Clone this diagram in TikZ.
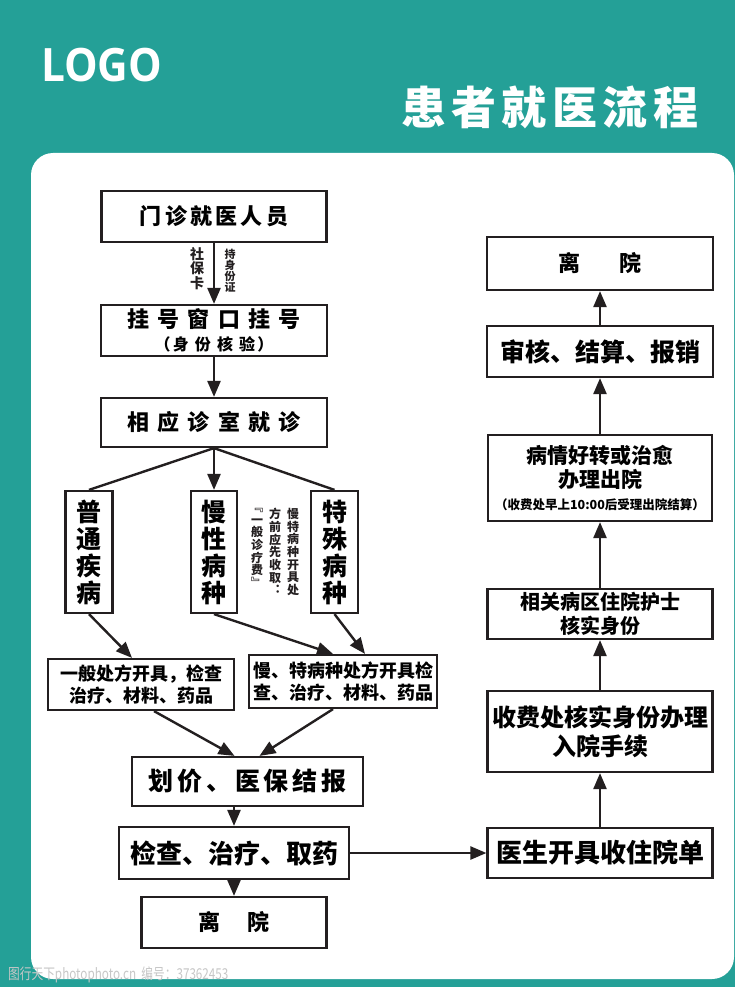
\documentclass[tikz,border=0pt]{standalone}
\usepackage{fontspec}
\usetikzlibrary{arrows.meta}
\newfontfamily\cjk{Noto Sans CJK SC}
\newfontfamily\cjkwide[LetterSpace=15]{Noto Sans CJK SC}
\newfontfamily\logofont{Open Sans}
\definecolor{tealbg}{RGB}{36,160,151}
\definecolor{boxline}{RGB}{35,31,32}
\tikzset{
  flowbox/.style={draw=boxline,line width=2.2pt,fill=white,align=center,inner sep=0pt,
    font=\cjkwide\bfseries\fontsize{22}{27}\selectfont},
  boxsize/.style 2 args={minimum width=#1,minimum height=#2},
  flowline/.style={draw=boxline,line width=2.4pt},
  flowarrow/.style={flowline,-{Triangle[width=13pt,length=16pt]}},
  sidetext/.style={align=center,inner sep=0pt,text=boxline,font=\cjk\bfseries\fontsize{12}{12.7}\selectfont}
}

\begin{document}
\begin{tikzpicture}[x=1pt,y=-1pt]
  % background and panel
  \fill[tealbg] (0,0) rectangle (735,987);
  \fill[white,rounded corners=22pt] (31,153) rectangle (734,979);
  \node[font=\logofont\bfseries\fontsize{46}{50}\selectfont,text=white,anchor=base west,inner sep=0pt] (logo) at (41,82) {\scalebox{0.92}[1]{LOGO}};
  \node[font=\cjk\bfseries\fontsize{45}{50}\selectfont\addfontfeature{LetterSpace=12},text=white,anchor=west,inner sep=0pt] (title) at (401,107) {患者就医流程};
  \node[font=\cjk\fontsize{15}{15}\selectfont,text=black!22,anchor=west,inner sep=0pt] (mark) at (8,975) {\scalebox{0.78}[1]{图行天下photophoto.cn\ \ 编号：37362453}};

  % outpatient column
  \node[flowbox,boxsize={225}{51}] (visitor) at (214,216.5) {门诊就医人员};
  \node[flowbox,boxsize={226}{51}] (register) at (214,330.5) {挂 号 窗 口 挂 号\\[-4pt]{\fontsize{16}{18}\selectfont （身 份 核 验）}};
  \node[flowbox,boxsize={226}{49}] (clinic) at (214,422.5) {相 应 诊 室 就 诊};
  \node[flowbox,boxsize={47}{122},font=\cjk\bfseries\fontsize{25}{27}\selectfont] (common) at (89,552) {普\\通\\疾\\病};
  \node[flowbox,boxsize={46}{122},font=\cjk\bfseries\fontsize{25}{27}\selectfont] (chronic) at (214,552) {慢\\性\\病\\种};
  \node[flowbox,boxsize={47}{122},font=\cjk\bfseries\fontsize{25}{27}\selectfont] (special) at (334.5,552) {特\\殊\\病\\种};
  \node[flowbox,boxsize={186}{51},font=\cjk\bfseries\fontsize{18}{22}\selectfont] (general) at (141,684.5) {一般处方开具，检查\\治疗、材料、药品};
  \node[flowbox,boxsize={188}{53},font=\cjk\bfseries\fontsize{18}{22}\selectfont] (chronicrx) at (343,681.5) {慢、特病种处方开具检\\查、治疗、材料、药品};
  \node[flowbox,boxsize={231}{49},font=\cjkwide\bfseries\fontsize{25}{27}\selectfont] (billing) at (247.5,781.5) {划价、医保结报};
  \node[flowbox,boxsize={230}{52},font=\cjk\bfseries\fontsize{26}{28}\selectfont] (exam) at (234,853) {检查、治疗、取药};
  \node[flowbox,boxsize={185}{51}] (leave) at (234,922.5) {离\hspace{1.2em}院};

  % notes
  \node[sidetext,font=\cjk\bfseries\fontsize{14}{14.5}\selectfont,anchor=north] (card) at (197,247) {社\\保\\卡};
  \node[sidetext,font=\cjk\bfseries\fontsize{11}{11}\selectfont,anchor=north] (idcard) at (230,249) {持\\身\\份\\证};
  \node[sidetext,anchor=north] (note1) at (293,508) {慢\\特\\病\\种\\开\\具\\处};
  \node[sidetext,anchor=north] (note2) at (275,508) {方\\前\\应\\先\\收\\取\\︓};
  \node[sidetext,anchor=north] (note3) at (257,508) {﹃\\一\\般\\诊\\疗\\费\\﹄};

  % inpatient column
  \node[flowbox,boxsize={226}{53}] (exit) at (600,263.5) {离\hspace{1.8em}院};
  \node[flowbox,boxsize={226}{51},font=\cjk\bfseries\fontsize{25}{27}\selectfont] (audit) at (600,351.5) {审核、结算、报销};
  \node[flowbox,boxsize={224}{86},font=\cjk\bfseries\fontsize{21}{24}\selectfont] (discharge) at (600,478) {病情好转或治愈\\办理出院\\[-2pt]{\fontsize{12.5}{14}\selectfont （收费处早上10:00后受理出院结算）}};
  \node[flowbox,boxsize={225}{50},font=\cjk\bfseries\fontsize{20}{24}\selectfont] (nurse) at (600,614) {相关病区住院护士\\核实身份};
  \node[flowbox,boxsize={225}{81},font=\cjk\bfseries\fontsize{24}{29}\selectfont] (cashier) at (600,731.5) {收费处核实身份办理\\入院手续};
  \node[flowbox,boxsize={225}{50},font=\cjk\bfseries\fontsize{26}{28}\selectfont] (admit) at (600,853) {医生开具收住院单};

  % connectors
  \draw[flowarrow] (visitor.south) -- (register.north);
  \draw[flowarrow] (register.south) -- (clinic.north);
  \draw[flowline] (clinic.south) -- (common.north);
  \draw[flowline] (clinic.south) -- (special.north);
  \draw[flowarrow] (clinic.south) -- (chronic.north);
  \draw[flowarrow] (common.south) -- ([xshift=-9pt]general.north);
  \draw[flowarrow] (chronic.south) -- ([xshift=-10pt]chronicrx.north);
  \draw[flowarrow] (special.south) -- ([xshift=22pt]chronicrx.north);
  \draw[flowarrow] ([xshift=13pt]general.south) -- ([xshift=-13pt]billing.north);
  \draw[flowarrow] ([xshift=-10pt]chronicrx.south) -- ([xshift=12pt]billing.north);
  \draw[flowarrow] (billing.south -| exam.north) -- (exam.north);
  \draw[flowarrow] (exam.south) -- (leave.north);
  \draw[flowarrow] (exam.east) -- (admit.west);
  \draw[flowarrow] (admit.north) -- (cashier.south);
  \draw[flowarrow] (cashier.north) -- (nurse.south);
  \draw[flowarrow] (nurse.north) -- (discharge.south);
  \draw[flowarrow] (discharge.north) -- (audit.south);
  \draw[flowarrow] (audit.north) -- (exit.south);
\end{tikzpicture}
\end{document}
